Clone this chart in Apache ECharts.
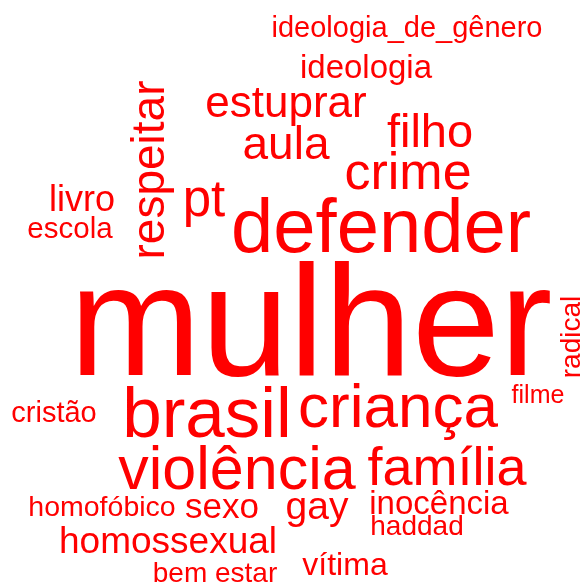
<!DOCTYPE html>
<html>
<head>
<meta charset="utf-8">
<script src="https://cdn.jsdelivr.net/npm/echarts@6/dist/echarts.min.js"></script>
<style>
html,body{margin:0;padding:0;background:#fff;}
#chart{width:581px;height:586px;}
</style>
</head>
<body>
<div id="chart"></div>
<script>
// Words of the cloud and their relative weights (rendered as font size)
const words = ["mulher","defender","brasil","criança","violência","família","filho","crime","pt","respeitar","aula","estuprar","gay","homossexual","sexo","livro","inocência","ideologia","vítima","cristão","escola","homofóbico","radical","haddad","bem estar","ideologia_de_gênero","filme"];
const weights = [158,76,71,62,61,54,47,52,51,46,46,44,39,37,35,36,33,33,32,29,29.5,28.5,28,28,28,29,25];

// Layout of the cloud (x centre, baseline y, rotation) in page pixels
const layoutX = [311,381,207,398,237,447,430,408,204,165,286,286,317,168,222,82,439,366,345,54,70,102,580,417,215,407,538];
const layoutY = [377,253,438,428,490,486,148,190,217,170,160,118,520,554,518,212,514,78,575,422,238,516,337,535,582,37,403];
const layoutRot = [0,0,0,0,0,0,0,0,0,90,0,0,0,0,0,0,0,0,0,0,0,0,90,0,0,0,0];

const data = words.map((w, i) => {
  const fs = weights[i];
  const rot = layoutRot[i];
  const x = rot ? layoutX[i] - 0.29 * fs : layoutX[i];
  const y = rot ? layoutY[i] : layoutY[i] - 0.29 * fs;
  return {
    name: w,
    value: [x, y],
    label: { fontSize: fs, rotate: rot }
  };
});

const chart = echarts.init(document.getElementById('chart'), null, {renderer: 'canvas'});
chart.setOption({
  backgroundColor: '#ffffff',
  animation: false,
  grid: {left: 0, right: 0, top: 0, bottom: 0},
  xAxis: {type: 'value', min: 0, max: 581, show: false},
  yAxis: {type: 'value', min: 0, max: 586, inverse: true, show: false},
  series: [{
    type: 'scatter',
    symbolSize: 0,
    silent: true,
    itemStyle: {opacity: 1, color: '#ff0000'},
    data: data,
    label: {
      show: true,
      position: 'inside',
      formatter: p => p.name,
      color: '#ff0000',
      opacity: 1,
      textBorderWidth: 0,
      fontFamily: '"Liberation Sans", Arial, sans-serif',
      align: 'center',
      verticalAlign: 'middle'
    }
  }]
});
</script>
</body>
</html>
